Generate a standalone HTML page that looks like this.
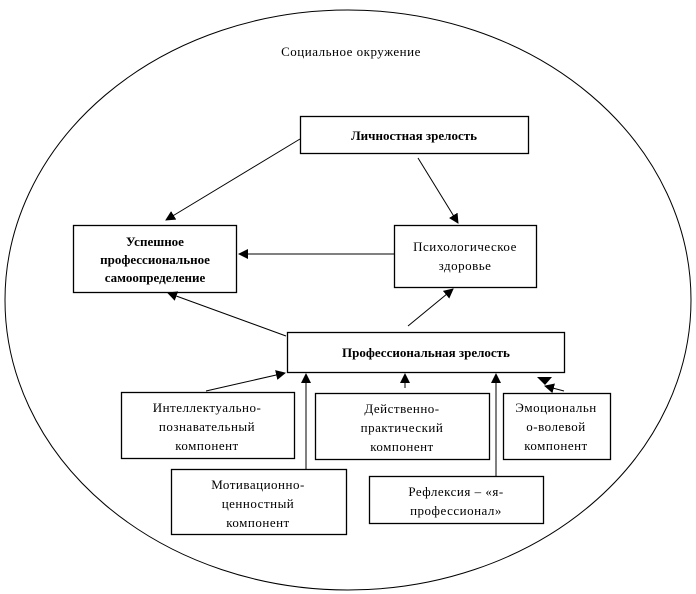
<!DOCTYPE html>
<html><head><meta charset="utf-8"><style>
html,body{margin:0;padding:0;background:#fff;}
svg{display:block;}
text{font-family:"Liberation Serif",serif;fill:#000;}
.n{font-size:13px;}
.b{font-size:13px;font-weight:bold;}
</style></head><body>
<svg width="696" height="594" viewBox="0 0 696 594" xmlns="http://www.w3.org/2000/svg">
<defs>
<marker id="a" markerWidth="10" markerHeight="10" refX="9" refY="5" orient="auto" markerUnits="userSpaceOnUse">
<path d="M0,0 L10,5 L0,10 Z" fill="#000"/></marker>
</defs>
<ellipse cx="348" cy="300" rx="343" ry="290" fill="none" stroke="#000" stroke-width="1"/>
<text class="n" x="351" y="56" text-anchor="middle" letter-spacing="0.5">Социальное окружение</text>
<g fill="#fff" stroke="#000" stroke-width="1.3">
<rect x="300.5" y="116.5" width="228" height="37"/>
<rect x="73.5" y="225.5" width="163" height="67"/>
<rect x="394.5" y="225.5" width="142" height="62"/>
<rect x="287.5" y="332.5" width="277" height="40"/>
<rect x="121.5" y="392.5" width="173" height="66"/>
<rect x="315.5" y="393.5" width="174" height="66"/>
<rect x="503.5" y="393.5" width="107" height="66"/>
<rect x="171.5" y="469.5" width="175" height="65"/>
<rect x="369.5" y="476.5" width="174" height="47"/>
</g>
<g stroke="#000" stroke-width="1" marker-end="url(#a)">
<line x1="300" y1="139" x2="166" y2="220"/>
<line x1="418" y1="158" x2="458" y2="223"/>
<line x1="394" y1="254" x2="239" y2="254"/>
<line x1="286" y1="336" x2="168" y2="293"/>
<line x1="408" y1="326" x2="453" y2="289"/>
<line x1="206" y1="391" x2="285" y2="373"/>
<line x1="306" y1="469" x2="306" y2="374"/>
<line x1="405" y1="388" x2="405" y2="374"/>
<line x1="496" y1="476" x2="496" y2="374"/>
<line x1="564" y1="391" x2="545" y2="386"/>
</g>
<path d="M537,377 L552,377 L545,385 Z" fill="#000"/>
<g class="b" text-anchor="middle">
<text x="414" y="140">Личностная зрелость</text>
<text x="155" y="246">Успешное</text>
<text x="155" y="264">профессиональное</text>
<text x="155" y="282">самоопределение</text>
<text x="426" y="357">Профессиональная зрелость</text>
</g>
<g class="n" text-anchor="middle" letter-spacing="0.5">
<text x="465" y="251">Психологическое</text>
<text x="465" y="270">здоровье</text>
<text x="207" y="412">Интеллектуально-</text>
<text x="207" y="431">познавательный</text>
<text x="207" y="450">компонент</text>
<text x="402" y="413">Действенно-</text>
<text x="402" y="432">практический</text>
<text x="402" y="451">компонент</text>
<text x="556" y="412">Эмоциональн</text>
<text x="556" y="431">о-волевой</text>
<text x="556" y="450">компонент</text>
<text x="258" y="489">Мотивационно-</text>
<text x="258" y="508">ценностный</text>
<text x="258" y="527">компонент</text>
<text x="456" y="496">Рефлексия – «я-</text>
<text x="456" y="515">профессионал»</text>
</g>
</svg>
</body></html>
